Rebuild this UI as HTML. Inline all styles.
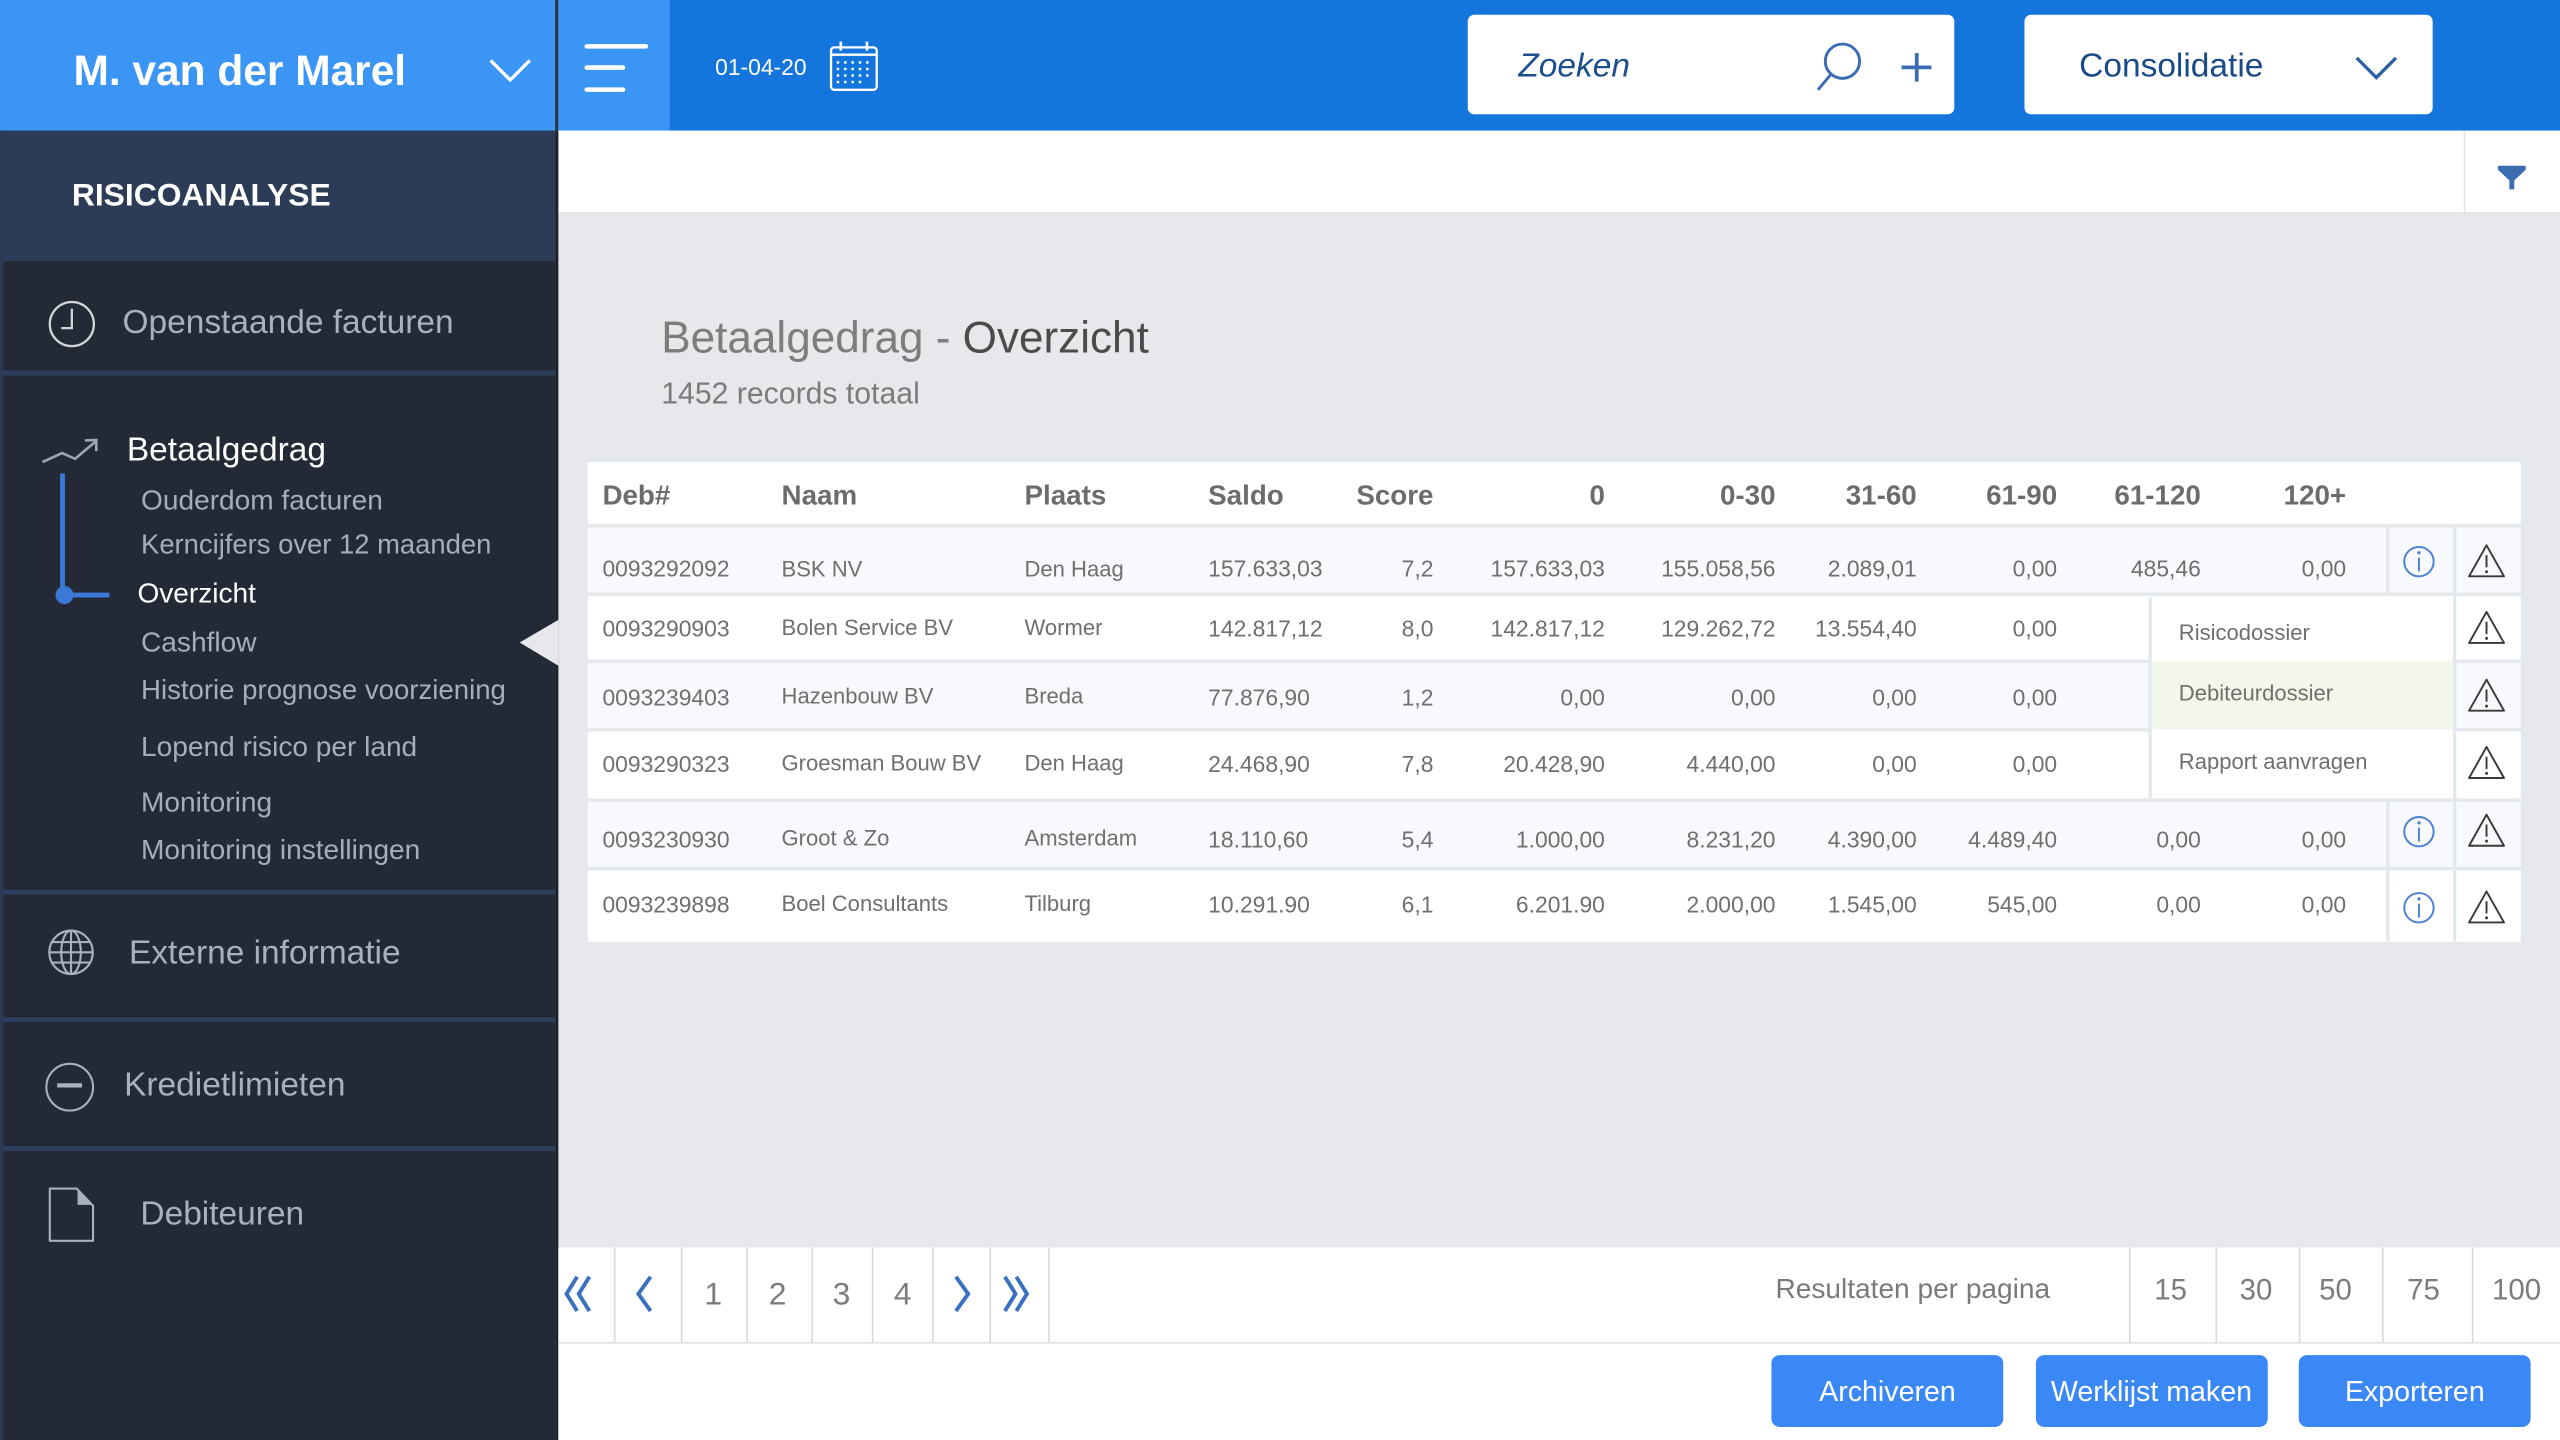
<!DOCTYPE html>
<html><head><meta charset="utf-8">
<style>
html,body{margin:0;padding:0;width:2560px;height:1440px;overflow:hidden;background:#e6e8eb;}
#w{position:absolute;left:0;top:0;width:1568px;height:882px;transform:scale(1.6326531);transform-origin:0 0;font-family:"Liberation Sans",Arial,sans-serif;background:#e6e8eb;overflow:hidden;}
.a{position:absolute;}
.t{position:absolute;white-space:nowrap;line-height:1;}
.r{transform:translateX(-100%);}
.c{transform:translateX(-50%);}
.row{position:absolute;left:0;width:1568px;height:14px;font-size:14px;color:#6f6f6f;}
.row .t{top:0;}
.row .n{font-size:13.5px;top:0.3px;}
.hdr{position:absolute;left:0;width:1568px;height:17px;font-size:17px;font-weight:bold;color:#6c6c6c;}
.hdr .t{top:0;}
.sb{color:#a5aeba;font-size:17.2px;}
.sm{color:#a9b1bd;font-size:20.5px;}
.pg{font-size:19.5px;color:#7c7c7c;top:783.6px;}
.pp{font-size:18px;color:#7c7c7c;top:780.9px;}
.btn{position:absolute;top:830px;height:44px;background:#3a88f5;border-radius:5px;color:#fff;font-size:17.5px;line-height:44px;text-align:center;}
.vl{position:absolute;width:1px;background:#dadada;top:764px;height:58px;}
</style></head><body><div id="w">

<!-- top bar -->
<div class="a" style="left:0;top:0;width:340px;height:80px;background:#3b95f5"></div>
<div class="a" style="left:340px;top:0;width:2px;height:80px;background:#243247"></div>
<div class="a" style="left:342px;top:0;width:68px;height:80px;background:#3b95f5"></div>
<div class="a" style="left:410px;top:0;width:1158px;height:80px;background:#1475dd"></div>
<div class="a" style="left:899px;top:8.5px;width:298px;height:61px;background:#fff;border-radius:4px"></div>
<div class="a" style="left:1240px;top:8.5px;width:250px;height:61px;background:#fff;border-radius:4px"></div>

<!-- white strip -->
<div class="a" style="left:342px;top:80px;width:1226px;height:50px;background:#fff;border-bottom:1px solid #dde0e4"></div>
<div class="a" style="left:1508.5px;top:80px;width:1px;height:50px;background:#e2e4e7"></div>

<!-- sidebar -->
<div class="a" style="left:0;top:80px;width:340px;height:802px;background:#232a36"></div>
<div class="a" style="left:340px;top:80px;width:2px;height:802px;background:#1c222c"></div>
<div class="a" style="left:0;top:80px;width:340px;height:80px;background:#2c3c57"></div>
<div class="a" style="left:0;top:226.5px;width:340px;height:3px;background:#2d3f5f"></div>
<div class="a" style="left:0;top:545px;width:340px;height:3px;background:#2d3f5f"></div>
<div class="a" style="left:0;top:623px;width:340px;height:3px;background:#2d3f5f"></div>
<div class="a" style="left:0;top:702px;width:340px;height:3px;background:#2d3f5f"></div>
<div class="a" style="left:0;top:80px;width:1.5px;height:802px;background:#2b3a55"></div>

<!-- table -->
<div class="a" style="left:358.5px;top:281px;width:1187px;height:297px;background:#e3e8ec"></div>
<div class="a" style="left:360px;top:282.5px;width:1184px;height:38.5px;background:#fff"></div>
<div class="a" style="left:360px;top:323px;width:1184px;height:40px;background:#f7f9fc"></div>
<div class="a" style="left:360px;top:365px;width:1184px;height:38.5px;background:#fff"></div>
<div class="a" style="left:360px;top:405.5px;width:1184px;height:40px;background:#f7f9fc"></div>
<div class="a" style="left:360px;top:447.5px;width:1184px;height:41.5px;background:#fff"></div>
<div class="a" style="left:360px;top:491px;width:1184px;height:40px;background:#f7f9fc"></div>
<div class="a" style="left:360px;top:533px;width:1184px;height:43.5px;background:#fff"></div>
<!-- dropdown -->
<div class="a" style="left:1316px;top:365.5px;width:186px;height:123px;background:#fff;border-left:2px solid #e3e8ec;box-sizing:border-box"></div>
<div class="a" style="left:1318px;top:405.3px;width:184px;height:41.4px;background:#f2f7ea"></div>

<!-- pagination -->
<div class="a" style="left:342px;top:764px;width:1226px;height:58px;background:#fff;border-bottom:1px solid #e0e0e0"></div>
<div class="a" style="left:342px;top:823px;width:1226px;height:59px;background:#fff"></div>
<div class="vl" style="left:376.3px"></div><div class="vl" style="left:417.3px"></div>
<div class="vl" style="left:457.2px"></div><div class="vl" style="left:496.6px"></div>
<div class="vl" style="left:533.7px"></div><div class="vl" style="left:571.3px"></div>
<div class="vl" style="left:606.4px"></div><div class="vl" style="left:641.5px"></div>
<div class="vl" style="left:1304.3px"></div><div class="vl" style="left:1357px"></div>
<div class="vl" style="left:1407.8px"></div><div class="vl" style="left:1458.6px"></div>
<div class="vl" style="left:1514px"></div>

<!-- icons -->
<svg class="a" style="left:0;top:0" width="1568" height="882" viewBox="0 0 1568 882" fill="none">
  <polyline points="300.5,37 312.5,49 324.5,37" stroke="#fff" stroke-width="2"/>
  <rect x="358" y="27" width="39" height="2.8" rx="1.4" fill="#fff"/>
  <rect x="358" y="40" width="25" height="2.8" rx="1.4" fill="#fff"/>
  <rect x="358" y="53.5" width="25" height="2.8" rx="1.4" fill="#fff"/>
  <rect x="509" y="29" width="28" height="26" rx="2" stroke="#fff" stroke-width="1.4"/>
  <line x1="509" y1="33.5" x2="537" y2="33.5" stroke="#fff" stroke-width="1.4"/>
  <line x1="515" y1="25.5" x2="515" y2="31" stroke="#fff" stroke-width="1.6"/>
  <line x1="531" y1="25.5" x2="531" y2="31" stroke="#fff" stroke-width="1.6"/>
  <g fill="#fff">
    <rect x="512.5" y="37.5" width="1.5" height="1.5"/><rect x="517" y="37.5" width="1.5" height="1.5"/><rect x="521.5" y="37.5" width="1.5" height="1.5"/><rect x="526" y="37.5" width="1.5" height="1.5"/><rect x="530.5" y="37.5" width="1.5" height="1.5"/>
    <rect x="512.5" y="41.5" width="1.5" height="1.5"/><rect x="517" y="41.5" width="1.5" height="1.5"/><rect x="521.5" y="41.5" width="1.5" height="1.5"/><rect x="526" y="41.5" width="1.5" height="1.5"/><rect x="530.5" y="41.5" width="1.5" height="1.5"/>
    <rect x="512.5" y="45.5" width="1.5" height="1.5"/><rect x="517" y="45.5" width="1.5" height="1.5"/><rect x="521.5" y="45.5" width="1.5" height="1.5"/><rect x="526" y="45.5" width="1.5" height="1.5"/><rect x="530.5" y="45.5" width="1.5" height="1.5"/>
    <rect x="512.5" y="49.5" width="1.5" height="1.5"/><rect x="517" y="49.5" width="1.5" height="1.5"/><rect x="521.5" y="49.5" width="1.5" height="1.5"/><rect x="526" y="49.5" width="1.5" height="1.5"/>
  </g>
  <circle cx="1128.5" cy="37.5" r="10.5" stroke="#3b6cb4" stroke-width="1.8"/>
  <line x1="1121.5" y1="45.5" x2="1113.5" y2="55" stroke="#3b6cb4" stroke-width="1.8"/>
  <line x1="1174" y1="32.5" x2="1174" y2="50" stroke="#3b6cb4" stroke-width="2.3"/>
  <line x1="1164.7" y1="41.3" x2="1183" y2="41.3" stroke="#3b6cb4" stroke-width="2.3"/>
  <polyline points="1443.5,35.5 1455.5,47.5 1467.5,35.5" stroke="#2b5ea4" stroke-width="2"/>
  <path d="M1530 101.5 L1547 101.5 L1547 104 L1540 110.5 L1540 116 L1537 116 L1537 110.5 L1530 104 Z" fill="#3b6db3"/>
  <circle cx="44" cy="198.5" r="13.5" stroke="#d2d5da" stroke-width="1.4"/>
  <polyline points="44,189 44,201 37.5,201" stroke="#d2d5da" stroke-width="1.4"/>
  <polyline points="26,283 38,277.5 46,281 58.5,270.5" stroke="#9da6b1" stroke-width="1.6"/>
  <polyline points="52,269.8 59,269.5 59,276.3" stroke="#9da6b1" stroke-width="1.6"/>
  <line x1="38.3" y1="290" x2="38.3" y2="365" stroke="#3b78d8" stroke-width="3"/>
  <line x1="38" y1="364.5" x2="67" y2="364.5" stroke="#3b78d8" stroke-width="3"/>
  <circle cx="39.5" cy="364.5" r="5.5" fill="#3b78d8"/>
  <polygon points="318.3,393.5 342,379.7 342,407.8" fill="#e6e8eb"/>
  <g stroke="#aab1bc" stroke-width="1.3">
    <circle cx="43.5" cy="583.3" r="13.3"/>
    <ellipse cx="43.5" cy="583.3" rx="6" ry="13.3"/>
    <line x1="43.5" y1="570" x2="43.5" y2="596.6"/>
    <line x1="30.2" y1="583.3" x2="56.8" y2="583.3"/>
    <line x1="32" y1="577" x2="55" y2="577"/>
    <line x1="32" y1="589.6" x2="55" y2="589.6"/>
  </g>
  <circle cx="42.7" cy="665.9" r="14.3" stroke="#aab1bc" stroke-width="1.3"/>
  <line x1="35" y1="664.8" x2="50.3" y2="664.8" stroke="#aab1bc" stroke-width="2.6"/>
  <path d="M30.5 728 L47 728 L57 738.5 L57 760 L30.5 760 Z" stroke="#aab1bc" stroke-width="1.3" stroke-linejoin="round"/>
  <path d="M47.5 728.5 L56.5 738 L47.5 738 Z" fill="#aab1bc"/>
  <g fill="#e3e8ec">
    <rect x="1461.5" y="323" width="2" height="40"/>
    <rect x="1461.5" y="491" width="2" height="85.5"/>
    <rect x="1502.5" y="323" width="2" height="253.5"/>
  </g>
  <g stroke="#4d82d0" stroke-width="1.2">
    <circle cx="1481.6" cy="344" r="9"/>
    <line x1="1481.6" y1="341.5" x2="1481.6" y2="350"/>
    <circle cx="1481.6" cy="509.4" r="9"/>
    <line x1="1481.6" y1="506.9" x2="1481.6" y2="515.4"/>
    <circle cx="1481.6" cy="556" r="9"/>
    <line x1="1481.6" y1="553.5" x2="1481.6" y2="562"/>
  </g>
  <g fill="#4d82d0">
    <circle cx="1481.6" cy="338.6" r="1"/>
    <circle cx="1481.6" cy="504" r="1"/>
    <circle cx="1481.6" cy="550.6" r="1"/>
  </g>
  <g stroke="#3a3a3a" stroke-width="1.2" stroke-linejoin="round">
    <path d="M1523 334 L1533.7 353 L1512.3 353 Z"/><line x1="1523" y1="340" x2="1523" y2="347.5"/>
    <path d="M1523 374.8 L1533.7 393.8 L1512.3 393.8 Z"/><line x1="1523" y1="380.8" x2="1523" y2="388.3"/>
    <path d="M1523 416.3 L1533.7 435.3 L1512.3 435.3 Z"/><line x1="1523" y1="422.3" x2="1523" y2="429.8"/>
    <path d="M1523 457.5 L1533.7 476.5 L1512.3 476.5 Z"/><line x1="1523" y1="463.5" x2="1523" y2="471"/>
    <path d="M1523 499 L1533.7 518 L1512.3 518 Z"/><line x1="1523" y1="505" x2="1523" y2="512.5"/>
    <path d="M1523 546 L1533.7 565 L1512.3 565 Z"/><line x1="1523" y1="552" x2="1523" y2="559.5"/>
  </g>
  <g fill="#3a3a3a">
    <circle cx="1523" cy="350.2" r="0.9"/><circle cx="1523" cy="391" r="0.9"/><circle cx="1523" cy="432.5" r="0.9"/>
    <circle cx="1523" cy="473.7" r="0.9"/><circle cx="1523" cy="515.2" r="0.9"/><circle cx="1523" cy="562.2" r="0.9"/>
  </g>
  <g stroke="#3a70c2" stroke-width="2.4" stroke-linejoin="miter">
    <polyline points="353.5,782 347,792.5 353.5,803"/>
    <polyline points="361,782 354.5,792.5 361,803"/>
    <polyline points="398.5,782 391,792.5 398.5,803"/>
    <polyline points="585.5,782 593,792.5 585.5,803"/>
    <polyline points="615.5,782 622,792.5 615.5,803"/>
    <polyline points="622.5,782 629,792.5 622.5,803"/>
  </g>
</svg>

<div class="t" style="left:45px;top:29.6px;font-size:26px;font-weight:bold;color:#fff">M. van der Marel</div>
<div class="t" style="left:438px;top:34.2px;font-size:14px;color:#fff">01-04-20</div>
<div class="t" style="left:930px;top:30.8px;font-size:20.5px;font-style:italic;color:#1d4f8f">Zoeken</div>
<div class="t" style="left:1273.5px;top:30.8px;font-size:20.5px;color:#1a4a87">Consolidatie</div>

<div class="t" style="left:44px;top:111.3px;font-size:19.5px;font-weight:bold;color:#fff">RISICOANALYSE</div>
<div class="t sm" style="left:75px;top:187.6px">Openstaande facturen</div>
<div class="t" style="left:77.7px;top:266.1px;font-size:20.5px;color:#fff">Betaalgedrag</div>
<div class="t sb" style="left:86.4px;top:298.4px">Ouderdom facturen</div>
<div class="t sb" style="left:86.4px;top:325.8px;font-size:16.8px">Kerncijfers over 12 maanden</div>
<div class="t" style="left:84.2px;top:354.8px;font-size:17.2px;color:#fff">Overzicht</div>
<div class="t sb" style="left:86.4px;top:385.1px">Cashflow</div>
<div class="t sb" style="left:86.4px;top:414.9px;font-size:16.9px">Historie prognose voorziening</div>
<div class="t sb" style="left:86.4px;top:448.7px">Lopend risico per land</div>
<div class="t sb" style="left:86.4px;top:483.4px">Monitoring</div>
<div class="t sb" style="left:86.4px;top:511.9px">Monitoring instellingen</div>
<div class="t sm" style="left:79px;top:574.1px">Externe informatie</div>
<div class="t sm" style="left:76px;top:655.1px">Kredietlimieten</div>
<div class="t sm" style="left:86px;top:734.1px">Debiteuren</div>

<div class="t" style="left:405px;top:194.2px;font-size:27px;color:#7d7d7d">Betaalgedrag - <span style="color:#4b4b4b">Overzicht</span></div>
<div class="t" style="left:405px;top:231.5px;font-size:18.5px;color:#7b7b7b">1452 records totaal</div>

<div class="hdr" style="top:294.8px">
<div class="t" style="left:369px">Deb#</div>
<div class="t" style="left:478.7px">Naam</div>
<div class="t" style="left:627.5px">Plaats</div>
<div class="t" style="left:740px">Saldo</div>
<div class="t r" style="left:878px">Score</div>
<div class="t r" style="left:983px">0</div>
<div class="t r" style="left:1087.5px">0-30</div>
<div class="t r" style="left:1174px">31-60</div>
<div class="t r" style="left:1260px">61-90</div>
<div class="t r" style="left:1348px">61-120</div>
<div class="t r" style="left:1437px">120+</div>
</div>

<div class="row" style="top:341.3px">
<div class="t" style="left:369px">0093292092</div>
<div class="t n" style="left:478.7px">BSK NV</div>
<div class="t n" style="left:627.5px">Den Haag</div>
<div class="t" style="left:740px">157.633,03</div>
<div class="t r" style="left:878px">7,2</div>
<div class="t r" style="left:983px">157.633,03</div>
<div class="t r" style="left:1087.5px">155.058,56</div>
<div class="t r" style="left:1174px">2.089,01</div>
<div class="t r" style="left:1260px">0,00</div>
<div class="t r" style="left:1348px">485,46</div>
<div class="t r" style="left:1437px">0,00</div>
</div>

<div class="row" style="top:378px">
<div class="t" style="left:369px">0093290903</div>
<div class="t n" style="left:478.7px">Bolen Service BV</div>
<div class="t n" style="left:627.5px">Wormer</div>
<div class="t" style="left:740px">142.817,12</div>
<div class="t r" style="left:878px">8,0</div>
<div class="t r" style="left:983px">142.817,12</div>
<div class="t r" style="left:1087.5px">129.262,72</div>
<div class="t r" style="left:1174px">13.554,40</div>
<div class="t r" style="left:1260px">0,00</div>
</div>

<div class="row" style="top:419.5px">
<div class="t" style="left:369px">0093239403</div>
<div class="t n" style="left:478.7px">Hazenbouw BV</div>
<div class="t n" style="left:627.5px">Breda</div>
<div class="t" style="left:740px">77.876,90</div>
<div class="t r" style="left:878px">1,2</div>
<div class="t r" style="left:983px">0,00</div>
<div class="t r" style="left:1087.5px">0,00</div>
<div class="t r" style="left:1174px">0,00</div>
<div class="t r" style="left:1260px">0,00</div>
</div>

<div class="row" style="top:460.7px">
<div class="t" style="left:369px">0093290323</div>
<div class="t n" style="left:478.7px">Groesman Bouw BV</div>
<div class="t n" style="left:627.5px">Den Haag</div>
<div class="t" style="left:740px">24.468,90</div>
<div class="t r" style="left:878px">7,8</div>
<div class="t r" style="left:983px">20.428,90</div>
<div class="t r" style="left:1087.5px">4.440,00</div>
<div class="t r" style="left:1174px">0,00</div>
<div class="t r" style="left:1260px">0,00</div>
</div>

<div class="row" style="top:506.7px">
<div class="t" style="left:369px">0093230930</div>
<div class="t n" style="left:478.7px">Groot &amp; Zo</div>
<div class="t n" style="left:627.5px">Amsterdam</div>
<div class="t" style="left:740px">18.110,60</div>
<div class="t r" style="left:878px">5,4</div>
<div class="t r" style="left:983px">1.000,00</div>
<div class="t r" style="left:1087.5px">8.231,20</div>
<div class="t r" style="left:1174px">4.390,00</div>
<div class="t r" style="left:1260px">4.489,40</div>
<div class="t r" style="left:1348px">0,00</div>
<div class="t r" style="left:1437px">0,00</div>
</div>

<div class="row" style="top:546.9px">
<div class="t" style="left:369px">0093239898</div>
<div class="t n" style="left:478.7px">Boel Consultants</div>
<div class="t n" style="left:627.5px">Tilburg</div>
<div class="t" style="left:740px">10.291.90</div>
<div class="t r" style="left:878px">6,1</div>
<div class="t r" style="left:983px">6.201.90</div>
<div class="t r" style="left:1087.5px">2.000,00</div>
<div class="t r" style="left:1174px">1.545,00</div>
<div class="t r" style="left:1260px">545,00</div>
<div class="t r" style="left:1348px">0,00</div>
<div class="t r" style="left:1437px">0,00</div>
</div>

<div class="t" style="left:1334.5px;top:381px;font-size:13.5px;color:#6f6f6f">Risicodossier</div>
<div class="t" style="left:1334.5px;top:418.2px;font-size:13.5px;color:#6f6f6f">Debiteurdossier</div>
<div class="t" style="left:1334.5px;top:459.5px;font-size:13.5px;color:#6f6f6f">Rapport aanvragen</div>

<div class="t pg c" style="left:436.9px">1</div>
<div class="t pg c" style="left:476.3px">2</div>
<div class="t pg c" style="left:515.4px">3</div>
<div class="t pg c" style="left:552.9px">4</div>
<div class="t" style="left:1087.5px;top:781.3px;font-size:17.2px;color:#7a7a7a">Resultaten per pagina</div>
<div class="t pp c" style="left:1329.5px">15</div>
<div class="t pp c" style="left:1381.8px">30</div>
<div class="t pp c" style="left:1430.5px">50</div>
<div class="t pp c" style="left:1484.4px">75</div>
<div class="t pp c" style="left:1541.4px">100</div>

<div class="btn" style="left:1085.2px;width:141.8px">Archiveren</div>
<div class="btn" style="left:1246.5px;width:142.5px">Werklijst maken</div>
<div class="btn" style="left:1407.8px;width:142.6px">Exporteren</div>

</div></body></html>
